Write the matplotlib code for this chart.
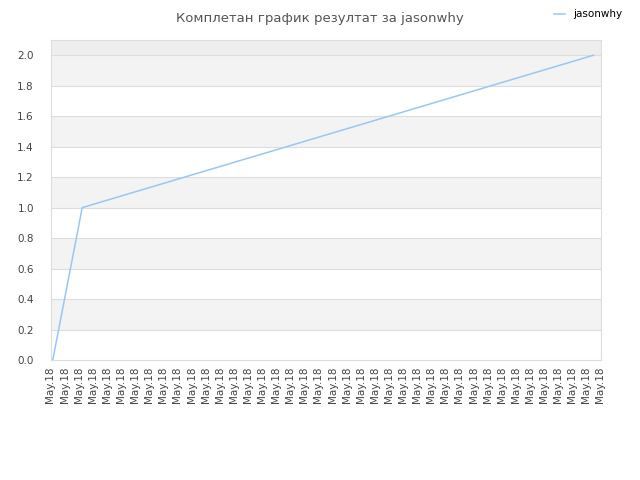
import matplotlib
matplotlib.use("Agg")
import matplotlib.pyplot as plt

# minutes since start of the visible time window (all on May 18)
minutes = [1.6, 22.5, 385.0]
scores = [0.0, 1.0, 2.0]

tick_minutes = [i * 10 for i in range(40)]
tick_labels = ["May.18"] * 40
y_ticks = [0.0, 0.2, 0.4, 0.6, 0.8, 1.0, 1.2, 1.4, 1.6, 1.8, 2.0]

fig = plt.figure(figsize=(6.4, 4.8), dpi=100)
ax = fig.add_axes([50.5 / 640, 0.25, 550 / 640, 320 / 480])

ax.set_xlim(0, 390)
ax.set_ylim(0, 2.1)

# alternating bands
for i in range(len(y_ticks) - 1):
    if i % 2 == 1:
        ax.axhspan(y_ticks[i], y_ticks[i + 1], color="#f3f3f3", zorder=0, lw=0)
ax.axhspan(2.0, 2.1, color="#eeeeee", zorder=0, lw=0)
for yv in y_ticks[1:]:
    ax.axhline(yv, color="#dddddd", lw=0.8, zorder=1)

ax.plot(minutes, scores, color="#99c7f2", lw=1.1, zorder=3, label="jasonwhy")

ax.set_yticks(y_ticks)
ax.set_yticklabels([f"{v:.1f}" for v in y_ticks])
ax.set_xticks(tick_minutes)
ax.set_xticklabels(tick_labels, rotation=90)
ax.tick_params(axis="both", length=0, labelsize=7.5, colors="#444444")
ax.tick_params(axis="y", pad=12)
ax.tick_params(axis="x", pad=5)

for s in ax.spines.values():
    s.set_color("#dddddd")
    s.set_linewidth(0.8)

fig.text(0.5, 0.975, "Комплетан график резултат за jasonwhy", ha="center", va="top",
         fontsize=9.5, color="#555555")
fig.legend(loc="upper right", bbox_to_anchor=(0.987, 1.0), frameon=False, fontsize=7.5,
           handlelength=1.0, handletextpad=0.8)

fig.savefig("out.png", dpi=100, facecolor="white")
